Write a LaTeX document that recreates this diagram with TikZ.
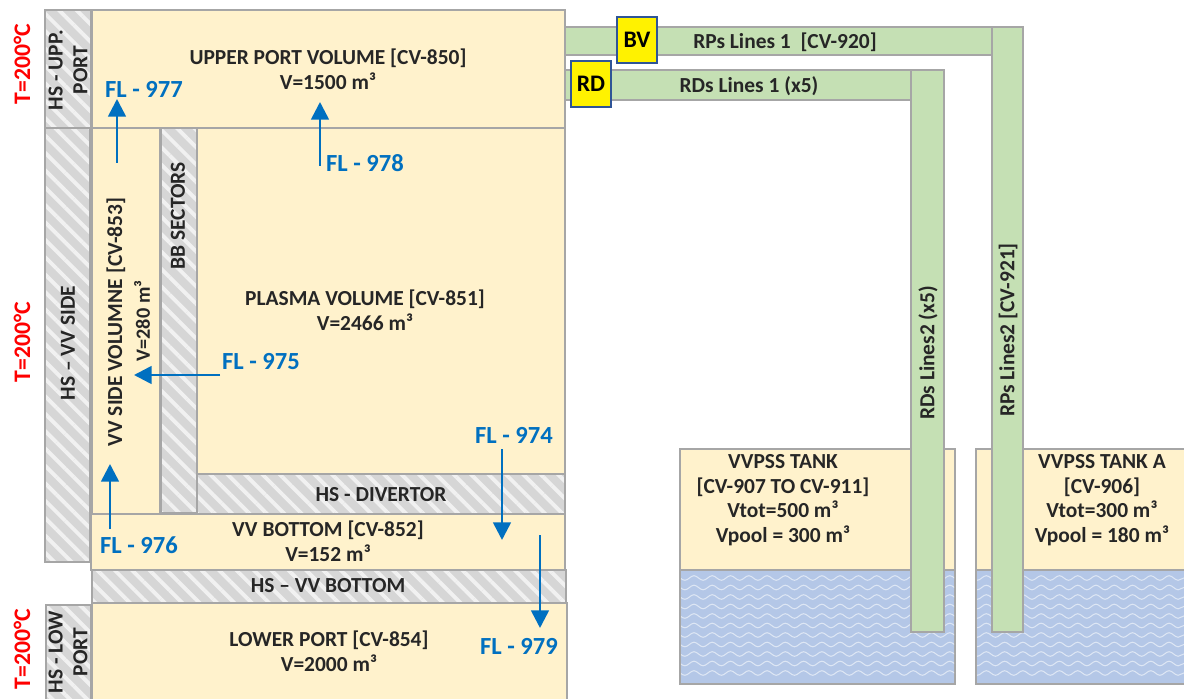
\documentclass[tikz,border=0pt]{standalone}
\usepackage{fontspec}
\setmainfont{Carlito}
\definecolor{VolumeCream}{HTML}{FFF2CC}
\definecolor{PipeGreen}{HTML}{C5E0B4}
\definecolor{EdgeGrey}{HTML}{A6A6A6}
\definecolor{HatchGrey}{HTML}{D6D6D6}
\definecolor{WaterBlue}{HTML}{B4C7E7}
\definecolor{FlowBlue}{HTML}{0070C0}
\definecolor{ValveEdge}{HTML}{2F5597}
\usetikzlibrary{arrows.meta,fit,patterns.meta,decorations.pathmorphing}
\tikzset{
    % Boxes are fitted to their corners
    volume/.style={
        rectangle,
        draw=EdgeGrey,
        line width=1.1pt,
        fill=VolumeCream,
        inner sep=0pt,
        outer sep=0pt
    },
    pipe/.style={
        volume,
        fill=PipeGreen
    },
    water/.style={
        volume,
        fill=WaterBlue
    },
    heat structure/.style={
        volume,
        preaction={fill=HatchGrey},
        pattern={Lines[angle=-45,distance=7pt,line width=2.2pt]},
        pattern color=white!65!HatchGrey
    },
    valve/.style={
        rectangle,
        draw=ValveEdge,
        line width=1.1pt,
        fill=yellow,
        inner sep=0pt,
        font=\bfseries\fontsize{13.5}{15}\selectfont
    },
    caption/.style={
        align=center,
        inner sep=0pt,
        font=\bfseries\fontsize{12.2}{14}\selectfont,
        text=black!85
    },
    flow label/.style={
        inner sep=0pt,
        text=FlowBlue,
        font=\bfseries\fontsize{14}{15}\selectfont
    },
    temperature/.style={
        rotate=90,
        inner sep=0pt,
        text=red,
        font=\bfseries\fontsize{13.5}{15}\selectfont
    },
    flow/.style={
        -{Triangle[length=10pt,width=10pt]},
        line width=1.5pt,
        color=FlowBlue
    },
    wave/.style={
        white!55!WaterBlue,
        line width=0.6pt,
        decorate,
        decoration={snake,segment length=10.4pt,amplitude=1.3pt}
    }
}
\begin{document}
\begin{tikzpicture}[x=0.02cm, y=-0.02cm]
        \useasboundingbox (0,0) rectangle (1184,699);

        % Tanks
        \node[volume, fit={(680,449) (955,570)}] (tank) {};
        \node[water, fit={(680,570) (955,684)}] (pool) {};
        \node[volume, fit={(976,449) (1194,570)}] (tankA) {};
        \node[water, fit={(976,570) (1194,684)}] (poolA) {};
        \begin{scope}
            \clip (681,571) rectangle (954,683) (977,571) rectangle (1184,683);
            \foreach \wavey in {578,587.5,...,682}
                \draw[wave] (670,\wavey) -- (1190,\wavey);
        \end{scope}

        % Heat structures
        \node[heat structure, fit={(45,10) (91,128)}] (hsUpp) {};
        \node[heat structure, fit={(45,128) (90,562)}] (hsSide) {};
        \node[heat structure, fit={(46,605) (91,709)}] (hsLow) {};
        \node[heat structure, fit={(161,128) (197,513)}] (bb) {};
        \node[heat structure, fit={(197,474) (565,514)}] (hsDiv) {};
        \node[heat structure, fit={(92,570) (566,603)}] (hsBot) {};

        % Volumes
        \node[volume, fit={(92,10) (565,128)}] (upper) {};
        \node[volume, fit={(92,128) (160,514)}] (side) {};
        \node[volume, fit={(197,128) (565,474)}] (plasma) {};
        \node[volume, fit={(91,514) (565,570)}] (bottom) {};
        \node[volume, fit={(92,603) (567,709)}] (lower) {};

        % Lines
        \node[pipe, fit={(565,27) (992,55)}] (rp1) {};
        \node[pipe, fit={(992,27) (1023,632)}] (rp2) {};
        \node[pipe, fit={(565,70) (911,100)}] (rd1) {};
        \node[pipe, fit={(911,70) (944,632)}] (rd2) {};
        \node[valve, fit={(617,17) (657,63)}, label={[font=\bfseries\fontsize{13.5}{15}\selectfont]center:BV}] (bv) {};
        \node[valve, fit={(571,61) (611,107)}, label={[font=\bfseries\fontsize{13.5}{15}\selectfont]center:RD}] (rd) {};

        % Texts
        \node[caption] (upperText) at (328,69) {UPPER PORT VOLUME [CV-850]\\V=1500 m³};
        \node[caption] (plasmaText) at (365,310) {PLASMA VOLUME [CV-851]\\V=2466 m³};
        \node[caption] (divText) at (381,495) {HS - DIVERTOR};
        \node[caption] (bottomText) at (328,541) {VV BOTTOM [CV-852]\\V=152 m³};
        \node[caption] (hsBotText) at (328,586) {HS – VV BOTTOM};
        \node[caption] (lowerText) at (329,651) {LOWER PORT [CV-854]\\V=2000 m³};
        \node[caption, rotate=90] (hsUppText) at (68,70) {HS - UPP.\\PORT};
        \node[caption, rotate=90] (hsSideText) at (68,343) {HS – VV SIDE};
        \node[caption, rotate=90] (hsLowText) at (68,652) {HS - LOW\\PORT};
        \node[caption, rotate=90] (bbText) at (178,216) {BB SECTORS};
        \node[caption, rotate=90] (sideText) at (116,322) {VV SIDE VOLUMNE [CV-853]};
        \node[caption, rotate=90, font=\bfseries\fontsize{11.5}{13}\selectfont] (sideVol) at (142,321) {V=280 m³};
        \node[caption] (rp1Text) at (785,42) {RPs Lines 1 \ [CV-920]};
        \node[caption] (rd1Text) at (749,86) {RDs Lines 1 (x5)};
        \node[caption, rotate=90] (rd2Text) at (928,353) {RDs Lines2 (x5)};
        \node[caption, rotate=90] (rp2Text) at (1008,330) {RPs Lines2 [CV-921]};
        \node[caption] (tankText) at (783,500) {VVPSS TANK\\{[CV-907 TO CV-911]}\\Vtot=500 m³\\Vpool = 300 m³};
        \node[caption] (tankAText) at (1102,500) {VVPSS TANK A\\{[CV-906]}\\Vtot=300 m³\\Vpool = 180 m³};

        % Temperatures
        \node[temperature] (tempUpp) at (22,64) {T=200°C};
        \node[temperature] (tempSide) at (22,342) {T=200°C};
        \node[temperature] (tempLow) at (22,649) {T=200°C};

        % Flow paths
        \node[flow label] (fl977) at (144,89) {FL - 977};
        \node[flow label] (fl978) at (365,163) {FL - 978};
        \node[flow label] (fl975) at (261,362) {FL - 975};
        \node[flow label] (fl974) at (514,435) {FL - 974};
        \node[flow label] (fl976) at (139,545) {FL - 976};
        \node[flow label] (fl979) at (519,646) {FL - 979};

        \coordinate (a977) at (117,163);
        \coordinate (b977) at (117,99);
        \coordinate (a978) at (320,166);
        \coordinate (b978) at (320,102);
        \coordinate (a975) at (220,375);
        \coordinate (b975) at (134,375);
        \coordinate (a974) at (502,449);
        \coordinate (b974) at (502,540);
        \coordinate (a976) at (110,529);
        \coordinate (b976) at (110,464);
        \coordinate (a979) at (540,535);
        \coordinate (b979) at (540,628);

        \draw[flow] (a977) -- (b977);
        \draw[flow] (a978) -- (b978);
        \draw[flow] (a975) -- (b975);
        \draw[flow] (a974) -- (b974);
        \draw[flow] (a976) -- (b976);
        \draw[flow] (a979) -- (b979);
    \end{tikzpicture}
\end{document}
